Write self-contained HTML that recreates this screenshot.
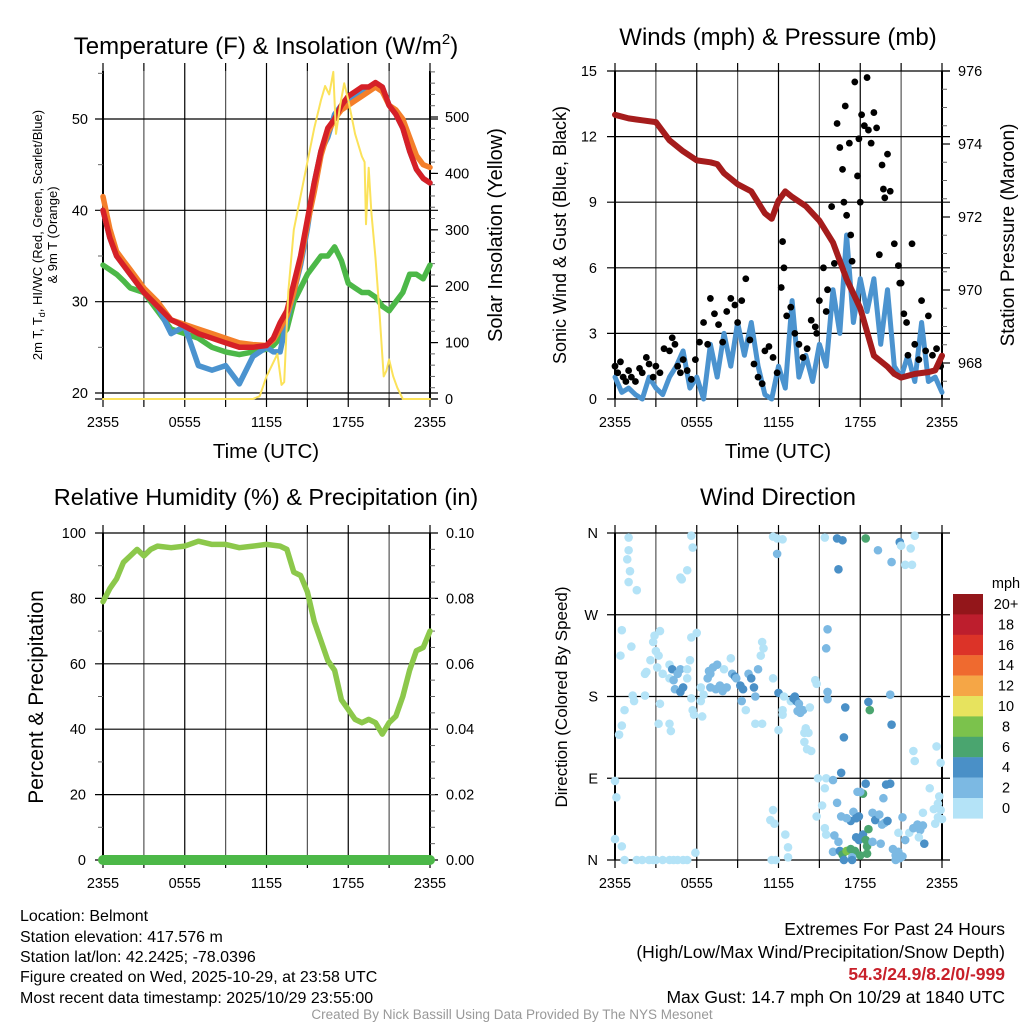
<!DOCTYPE html>
<html><head><meta charset="utf-8">
<style>
html,body{margin:0;padding:0;background:#fff;}
svg{display:block;font-family:"Liberation Sans",Arial,sans-serif;}
</style></head>
<body>
<svg id="chart" width="1024" height="1024" viewBox="0 0 1024 1024" xmlns="http://www.w3.org/2000/svg">
<rect width="1024" height="1024" fill="#fff"/>
<g id="layer"></g>
<!-- Titles -->
<text x="266" y="54" font-size="24" text-anchor="middle">Temperature (F) &amp; Insolation (W/m<tspan font-size="15" dy="-10">2</tspan><tspan dy="10">)</tspan></text>
<text x="778" y="45" font-size="24" text-anchor="middle">Winds (mph) &amp; Pressure (mb)</text>
<text x="266" y="505" font-size="23.5" text-anchor="middle">Relative Humidity (%) &amp; Precipitation (in)</text>
<text x="778" y="505" font-size="24" text-anchor="middle">Wind Direction</text>
<!-- axis titles -->
<text font-size="13" text-anchor="middle" transform="translate(42,235) rotate(-90)">2m T, T<tspan font-size="9" dy="3">d</tspan><tspan dy="-3">, HI/WC (Red, Green, Scarlet/Blue)</tspan></text>
<text font-size="13" text-anchor="middle" transform="translate(57,235) rotate(-90)">&amp; 9m T (Orange)</text>
<text font-size="20" text-anchor="middle" transform="translate(502,235) rotate(-90)">Solar Insolation (Yellow)</text>
<text font-size="18" text-anchor="middle" transform="translate(566,235) rotate(-90)">Sonic Wind &amp; Gust (Blue, Black)</text>
<text font-size="19" text-anchor="middle" transform="translate(1014,235) rotate(-90)">Station Pressure (Maroon)</text>
<text font-size="21" text-anchor="middle" transform="translate(43,697) rotate(-90)">Percent &amp; Precipitation</text>
<text font-size="17" text-anchor="middle" transform="translate(567,697) rotate(-90)">Direction (Colored By Speed)</text>
<text x="266" y="458" font-size="20.5" text-anchor="middle">Time (UTC)</text>
<text x="778" y="458" font-size="20.5" text-anchor="middle">Time (UTC)</text>
<!-- footer -->
<g font-size="16">
<text x="20" y="921">Location: Belmont</text>
<text x="20" y="942">Station elevation: 417.576 m</text>
<text x="20" y="962">Station lat/lon: 42.2425; -78.0396</text>
<text x="20" y="982">Figure created on Wed, 2025-10-29, at 23:58 UTC</text>
<text x="20" y="1003">Most recent data timestamp: 2025/10/29 23:55:00</text>
</g>
<g font-size="17.5" text-anchor="end">
<text x="1005" y="935">Extremes For Past 24 Hours</text>
<text x="1005" y="958">(High/Low/Max Wind/Precipitation/Snow Depth)</text>
<text x="1005" y="980" fill="#c8202a" font-weight="bold">54.3/24.9/8.2/0/-999</text>
<text x="1005" y="1003">Max Gust: 14.7 mph On 10/29 at 1840 UTC</text>
</g>
<text x="512" y="1019" font-size="13.5" fill="#999" text-anchor="middle">Created By Nick Bassill Using Data Provided By The NYS Mesonet</text>
</svg>
<script>
// ---------------- DATA ----------------
const timeTickLabels = ["2355","0555","1155","1755","2355"];
const tempHours = [0,0.5,1,1.5,2,3,4,5,6,7,8,9,10,11,12,12.5,13,13.5,14,14.5,15,15.5,16,16.5,17,17.5,18,18.5,19,19.5,20,20.5,21,21.5,22,22.5,23,23.5,24];
const tempRed = [40,37,35,34,33,31,29.5,28,27.3,26.5,26,25.5,25,25,25.2,26,27.7,29,32,35,39,43,46.5,49,50,51.5,52.5,53,53.5,53.5,54,53.5,51.5,50.5,49,46.5,44.5,43.5,43];
const tempOrange = [41.5,38,35.5,34.5,33.5,31.5,30,28,27.5,27,26.5,26,25.5,25.3,25.2,25.8,27,28.5,31,34.5,38.5,42,46,48.5,50,51,51.5,52,52.5,53,53.5,53,51.5,51,50,48,46,45,44.7];
const tempGreen = [34,33.5,33,32.3,31.5,31,29,27,26.5,26,25,24.5,24.2,24.5,24.8,25.2,26,27,30,31.5,33,34,35,35,36,34.5,32,31.5,31,31,30.5,29.5,29,30,31,33,33,32.5,34];
const tempBlue = [40,37,35,34,33,31,29.5,26.5,27.3,23,22.5,23,21,24,25,24.5,24.5,28,31,34,38,43,46.5,48,50.5,51.5,52,52.5,53,53.5,53.5,53.5,51.5,50.5,49,46.5,44.5,43.5,43];
const tempTicks = [20,30,40,50];
const solarHours = [0,11,11.5,12,12.4,12.8,13.1,13.3,13.6,14,14.5,15,15.5,16,16.3,16.6,16.9,17.1,17.4,17.7,18,18.5,19,19.2,19.3,19.5,19.7,20,20.3,20.6,20.8,21,21.3,21.6,22,24];
const solarValues = [0,0,5,40,60,80,25,30,190,300,360,420,480,530,555,540,580,470,520,560,530,470,430,420,310,410,330,250,150,40,50,70,40,20,0,0];
const solarTicks = [0,100,200,300,400,500];

const windHours = [0,0.5,1,1.5,2,2.5,3,3.5,4,4.5,5,5.5,6,6.5,7,7.5,8,8.5,9,9.5,10,10.5,11,11.5,12,12.5,13,13.5,14,14.5,15,15.5,16,16.5,17,17.5,18,18.5,19,19.5,20,20.5,21,21.5,22,22.5,23,23.5,24];
const windSpeed = [1,0.3,0.5,0.2,0,1,0.5,0.2,1,1.5,2.2,0.5,1,0,2.5,1,3,1.5,3.5,2,3.5,1.5,0.2,0,1.5,0.5,4.5,1,2,0.8,2.5,1.5,5,3,7.5,3.5,5.5,4,5.5,2.5,5,1.5,1,2,0.8,3.5,0.8,1,0.3];
const gustHours = [0,0.2,0.4,0.6,0.8,1.0,1.2,1.5,1.8,2.0,2.3,2.5,2.8,3.0,3.3,3.6,4.0,4.2,4.4,4.6,4.8,5.0,5.3,5.6,5.9,6.2,6.5,6.8,7.0,7.3,7.6,7.9,8.2,8.5,8.8,9.0,9.3,9.6,9.9,10.2,10.5,10.8,11.0,11.3,11.6,11.9,12.2,12.3,12.4,12.6,12.9,13.2,13.5,13.8,14.1,14.4,14.7,15.0,15.3,15.6,15.9,16.1,16.3,16.5,16.7,16.9,17.0,17.2,17.4,17.6,17.8,18.0,18.1,18.3,18.5,18.6,18.8,19.0,19.2,19.4,19.6,19.8,20.0,20.2,20.5,20.8,21.0,21.2,21.5,21.8,22.0,22.3,22.5,22.8,23.0,23.3,23.6,23.9,16.8,17.3,17.9,15.5,14.8,19.7,20.9,21.4];
const gustValues = [1.5,1.2,1.7,1.0,0.8,1.3,1.0,0.8,1.4,1.2,1.9,1.6,1.0,1.5,1.2,2.3,2.2,2.8,2.5,1.5,1.2,1.8,1.3,0.9,1.8,2.6,3.5,2.5,4.6,3.9,3.4,2.6,4.0,4.6,4.3,3.5,4.5,5.5,2.7,1.6,1.0,0.7,2.2,2.4,1.9,1.2,5.1,7.2,6.0,3.8,4.2,3.0,2.5,1.9,2.3,3.6,3.3,4.5,6.0,5.0,8.8,6.2,12.6,11.5,10.5,13.4,8.4,11.7,6.3,14.5,10.2,9.0,13.0,12.5,14.7,12.3,11.7,13.1,12.4,6.6,10.7,9.2,11.2,9.5,7.1,6.1,5.3,3.9,2.0,7.1,2.5,1.8,4.5,2.2,3.8,2.0,2.3,1.5,9.0,7.5,11.9,4.0,3.0,9.6,5.3,3.5];
const windTicks = [0,3,6,9,12,15];
const pressHours = [0,1,2,3,4,5,6,7,7.5,8,9,10,11,11.5,12,12.5,13,14,15,16,17,18,19,20,20.5,21,22,23,23.5,24];
const pressValues = [974.8,974.7,974.65,974.6,974.1,973.8,973.55,973.5,973.45,973.2,972.9,972.7,972.1,971.95,972.45,972.7,972.55,972.3,971.9,971.3,970.3,969.5,968.2,967.9,967.7,967.6,967.7,967.75,967.8,968.2];
const pressTicks = [968,970,972,974,976];

const rhHours = [0,0.5,1,1.5,2,2.5,3,3.5,4,5,6,7,8,9,10,11,12,13,13.5,14,14.5,15,15.5,16,16.5,17,17.5,18,18.5,19,19.5,20,20.5,21,21.5,22,22.5,23,23.5,24];
const rhValues = [79,83,86,91,93,95,93,95,96,95.5,96,97.5,96.5,96.5,95.5,96,96.5,96,95,88,87,82,73,67,61,58,49,46,43,42,43,42,38.5,42,44,50,58,64,65,70];
const precipHours = [0,24];
const precipValues = [0,0];
const rhTicks = [0,20,40,60,80,100];
const precipTickLabels = ["0.00","0.02","0.04","0.06","0.08","0.10"];

const dirTickLabels = ["N","E","S","W","N"];
const dirHours = [1.0,1.0,0.9,1.1,1.0,1.6,5.6,5.7,5.3,4.9,4.8,11.6,11.9,12.3,11.9,15.4,16.3,16.7,16.4,18.4,19.3,20.3,20.9,21.0,21.3,21.7,21.8,22.0,
0.5,0.4,1.2,1.3,1.4,0.7,0.5,0.3,2.2,2.3,2.2,2.6,2.8,2.9,3.3,3.2,3.1,3.5,3.0,3.3,3.2,4.0,4.2,4.0,4.3,4.0,4.1,4.8,4.6,5.0,4.4,4.8,5.3,5.5,5.3,5.6,5.8,5.7,5.6,6.0,6.3,6.3,6.8,7.0,6.9,7.2,7.5,7.0,7.4,7.7,8.0,7.9,8.2,8.5,8.6,8.8,8.9,9.2,9.4,9.3,9.6,9.8,10.0,10.2,10.3,10.5,10.7,10.9,10.8,10.3,10.8,6.5,6.4,
11.6,12.0,12.3,12.3,12.0,12.4,12.9,13.1,13.3,13.2,13.5,13.6,13.8,13.4,14.0,14.2,13.9,14.3,13.9,14.1,14.4,14.7,14.8,
15.5,15.6,15.6,15.6,16.9,16.8,16.6,18.6,18.7,20.2,20.3,21.9,22.0,23.6,23.9,
0,0.1,0.0,0.5,0.7,2.0,2.5,3.0,3.5,4.0,4.3,5.0,5.3,5.9,1.6,2.8,4.6,
11.6,11.7,11.4,12.5,12.7,12.7,11.5,11.8,
14.9,15.5,15.4,15.2,14.8,15.4,15.5,16.0,16.3,16.6,16.1,16.4,16.0,16.5,16.7,17.0,17.3,17.6,17.4,16.8,17.4,17.3,17.5,17.0,17.7,17.9,17.7,17.9,18.2,18.4,18.6,18.5,18.9,18.0,18.5,18.2,18.0,17.8,18.4,18.9,19.1,19.4,19.7,19.9,20.2,19.8,19.6,20.0,19.5,20.4,20.6,20.8,21.1,20.9,20.6,21.3,20.8,21.1,21.6,21.9,22.2,22.6,22.4,22.7,22.3,22.6,23.5,23.7,23.4,23.7,23.8,23.9,23.1,24.0];
const dirDegrees = [355,341,331,318,306,297,357,344,319,309,311,356,354,353,337,355,354,352,320,354,341,328,350,346,325,343,325,357,
253,225,235,181,175,165,148,138,181,207,205,220,240,247,252,225,212,205,230,172,150,215,210,200,198,150,142,210,205,190,188,185,210,220,200,178,160,165,245,250,190,175,200,205,208,212,215,190,188,192,210,186,190,222,205,202,200,192,188,175,165,205,200,190,180,210,225,233,240,150,150,182,158,
200,184,165,160,143,180,175,178,175,180,172,162,165,164,145,140,140,168,130,122,120,198,194,
233,254,185,177,168,135,96,174,165,182,149,120,109,125,107,
87,69,23,15,0,0,0,0,0,0,0,0,0,8,0,0,0,
55,40,44,28,14,3,0,0,
90,90,79,60,48,35,28,88,63,48,27,20,9,10,6,10,12,10,3,0,0,43,53,46,46,48,25,22,28,22,34,15,20,5,7,73,75,75,84,52,44,50,68,83,84,41,39,43,18,12,5,9,4,2,0,22,30,47,30,35,39,38,33,18,25,52,40,47,56,62,70,55,79,45];
const dirSpeeds = [1,1,1,1,1,1,1,1,1,1,1,1,1,1,3,1,5,5,5,7,3,3,5,1,1,1,1,1,
1,1,1,1,1,1,1,1,1,1,1,1,1,1,1,1,1,1,1,1,1,1,5,1,3,1,1,3,3,5,3,5,1,1,1,1,1,1,1,1,1,1,3,3,3,3,3,3,3,3,1,3,3,1,3,5,3,5,5,3,1,3,5,5,3,3,1,1,1,1,1,1,1,
1,5,1,1,1,1,1,5,5,5,3,3,3,3,1,1,1,1,1,1,1,1,1,
3,3,3,3,5,5,5,5,7,3,5,1,1,1,1,
1,1,1,1,1,1,1,1,1,1,1,1,1,1,1,1,1,
1,1,1,1,1,1,1,1,
1,1,1,1,1,1,1,3,3,3,3,3,3,5,7,9,7,7,3,5,5,5,3,3,5,5,5,5,5,7,7,7,3,7,7,7,3,3,5,3,5,3,3,5,5,3,3,5,3,3,3,3,3,3,3,3,1,3,1,3,3,3,3,5,1,1,1,1,1,1,1,1,1,1];
const legendLabels = ["20+","18","16","14","12","10","8","6","4","2","0"];
const legendColors = ["#93161a","#bd1e2d","#dc3328","#ef6a2f","#f5a646","#e7e35e","#7bc24c","#4aa56f","#4a90c7","#7cb9e3","#b4e3f7"];

// ---------------- DRAWING ----------------
const NS = "http://www.w3.org/2000/svg";
const layer = document.getElementById("layer");
function mk(tag, attrs, parent){
  const e = document.createElementNS(NS, tag);
  for (const k in attrs) e.setAttribute(k, attrs[k]);
  (parent||layer).appendChild(e);
  return e;
}
function lin(d0,d1,r0,r1){ return v => r0 + (v-d0)/(d1-d0)*(r1-r0); }

const panels = {
  tl:{x0:103,x1:430,y0:71,y1:399},
  tr:{x0:615,x1:942,y0:71,y1:399},
  bl:{x0:103,x1:430,y0:533,y1:860},
  br:{x0:615,x1:942,y0:533,y1:860}
};
function grid(p, yVals, yS, name){
  const g = mk("g", {});
  
  
  const xS = lin(0,24,p.x0,p.x1);
  for (let h=0; h<=24; h+=3){
    const x = xS(h);
    mk("line",{x1:x,x2:x,y1:p.y0,y2:p.y1,stroke:(h%6==0?"#000":"#555"),"stroke-width":1.2},g);
    mk("line",{x1:x,x2:x,y1:p.y1,y2:p.y1+8,stroke:"#000","stroke-width":1.2},g);
    mk("line",{x1:x,x2:x,y1:p.y0,y2:p.y0-8,stroke:"#000","stroke-width":1.2},g);
  }
  yVals.forEach(v=>{
    const y = yS(v);
    mk("line",{x1:p.x0-8,x2:p.x1+8,y1:y,y2:y,stroke:"#000","stroke-width":1.2},g);
  });
  mk("line",{x1:p.x0,x2:p.x0,y1:p.y0,y2:p.y1,stroke:"#000","stroke-width":2},g);
  mk("line",{x1:p.x1,x2:p.x1,y1:p.y0,y2:p.y1,stroke:"#000","stroke-width":2},g);
  timeTickLabels.forEach((t,i)=>{
    const tx = mk("text",{x:xS(i*6),y:p.y1+28,"font-size":14.5,"text-anchor":"middle"},g);
    
    
    tx.textContent = t;
  });
  return xS;
}
function minorTicks(x, yS, from, to, step, dir, len){
  for (let v=from; v<=to+1e-9; v+=step){
    const y = yS(v);
    mk("line",{x1:x,x2:x+dir*len,y1:y,y2:y,stroke:"#666","stroke-width":1});
  }
}
function yLabels(vals, labels, yS, x, anchor, name){
  vals.forEach((v,i)=>{
    const t = mk("text",{x:x,y:yS(v)+5,"font-size":14.5,"text-anchor":anchor});
    
    
    t.textContent = labels[i];
  });
}
function line(xs, ys, xS, yS, color, w, name){
  const d = xs.map((h,i)=>(i?"L":"M")+xS(h).toFixed(1)+","+yS(ys[i]).toFixed(1)).join("");
  const p = mk("path",{d:d,fill:"none",stroke:color,"stroke-width":w,"stroke-linejoin":"round","stroke-linecap":"round"});
  
  
  return p;
}

// --- Temperature panel
(function(){
  const p = panels.tl;
  const yS = lin(20,50,393,119);
  const sS = lin(0,500,399,117);
  const xS = grid(p, tempTicks, yS, "temperature");
  mk("line",{x1:p.x0-8,x2:p.x1+8,y1:399,y2:399,stroke:"#000","stroke-width":1.2});
  minorTicks(p.x0, yS, 25, 55, 10, -1, 5);
  minorTicks(p.x1, sS, 0, 580, 20, 1, 5);
  solarTicks.forEach(v=>mk("line",{x1:p.x1,x2:p.x1+8,y1:sS(v),y2:sS(v),stroke:"#000","stroke-width":1.2}));
  yLabels(tempTicks, tempTicks.map(String), yS, 88, "end", "temperature-tick-label");
  yLabels(solarTicks, solarTicks.map(String), sS, 445, "start", "solar-tick-label");
  line(tempHours, tempGreen, xS, yS, "#4cb848", 5.5, "dewpoint-line");
  line(tempHours, tempBlue, xS, yS, "#4b93cf", 5.5, "windchill-line");
  line(tempHours, tempOrange, xS, yS, "#f47f2a", 5.5, "temperature-9m-line");
  line(tempHours, tempRed, xS, yS, "#d62027", 5.5, "temperature-2m-line");
  line(solarHours, solarValues, xS, sS, "#fbe25a", 2, "solar-line");
})();

// --- Winds panel
(function(){
  const p = panels.tr;
  const yS = lin(0,15,399,71);
  const pS = lin(968,976,363,71);
  const xS = grid(p, windTicks, yS, "winds");
  minorTicks(p.x1, pS, 967.5, 976, 0.5, 1, 5);
  pressTicks.forEach(v=>mk("line",{x1:p.x1,x2:p.x1+8,y1:pS(v),y2:pS(v),stroke:"#000","stroke-width":1.2}));
  yLabels(windTicks, windTicks.map(String), yS, 597, "end", "wind-tick-label");
  yLabels(pressTicks, pressTicks.map(String), pS, 958, "start", "pressure-tick-label");
  line(windHours, windSpeed, xS, yS, "#4b93cf", 5, "wind-speed-line");
  gustHours.forEach((h,i)=>{
    const c = mk("circle",{cx:xS(h),cy:yS(gustValues[i]),r:3.4,fill:"#000"});
    
    
  });
  line(pressHours, pressValues, xS, pS, "#a51c1c", 6, "pressure-line");
})();

// --- Humidity panel
(function(){
  const p = panels.bl;
  const yS = lin(0,100,860,533);
  const xS = grid(p, rhTicks, yS, "humidity");
  minorTicks(p.x0, yS, 10, 90, 20, -1, 5);
  minorTicks(p.x1, yS, 5, 95, 5, 1, 5);
  yLabels(rhTicks, rhTicks.map(String), yS, 86, "end", "humidity-tick-label");
  yLabels(rhTicks, precipTickLabels, yS, 446, "start", "precip-tick-label");
  line(rhHours, rhValues, xS, yS, "#8cc84b", 5.5, "humidity-line");
  line(precipHours, precipValues, xS, yS, "#4cb848", 10, "precipitation-line");
})();

// --- Wind direction panel
(function(){
  const p = panels.br;
  const dS = lin(0,360,860,533);
  const dirTicks = [0,90,180,270,360];
  const xS = grid(p, dirTicks, dS, "direction");
  yLabels(dirTicks, dirTickLabels, dS, 598, "end", "direction-tick-label");
  dirHours.forEach((h,i)=>{
    const bin = Math.min(10, Math.floor(dirSpeeds[i]/2));
    const c = mk("circle",{cx:xS(h),cy:dS(dirDegrees[i]),r:4.3,fill:legendColors[10-bin]});
    
    
  });
  const lg = mk("g",{});
  
  
  const t = mk("text",{x:1006,y:588,"font-size":14.5,"text-anchor":"middle"},lg);
  t.textContent = "mph";
  legendLabels.forEach((lab,i)=>{
    const y = 594 + i*20.4;
    const r = mk("rect",{x:953,y:y,width:30,height:20.6,fill:legendColors[i]},lg);
    
    
    const tx = mk("text",{x:1006,y:y+15,"font-size":14.5,"text-anchor":"middle"},lg);
    
    
    tx.textContent = lab;
  });
})();
</script>
</body></html>
